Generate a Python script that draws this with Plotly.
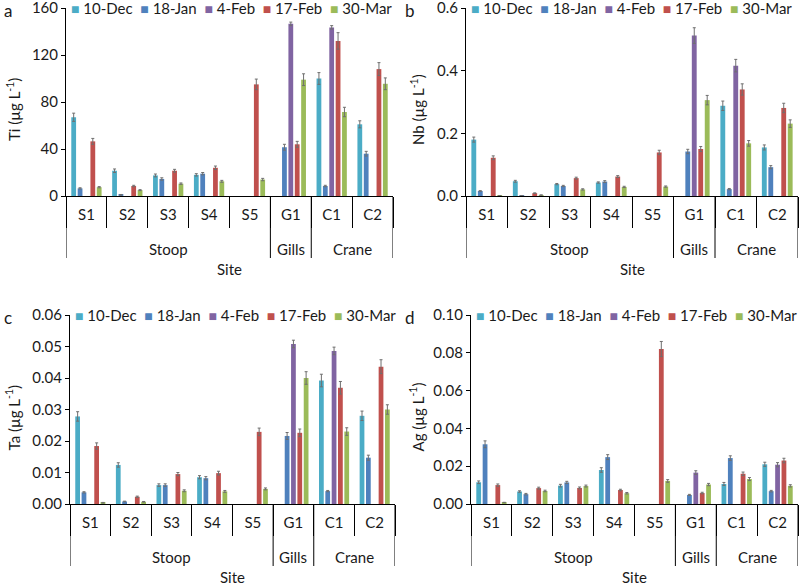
import plotly.graph_objects as go

W, H = 800, 585

sites = ["S1", "S2", "S3", "S4", "S5", "G1", "C1", "C2"]
group_names = ["Stoop", "Gills", "Crane"]
group_centers = [2, 5, 6.5]          # category index of each group's centre
group_bounds = [-0.5, 4.5, 5.5, 7.5]  # category boundaries between groups
dates = ["10-Dec", "18-Jan", "4-Feb", "17-Feb", "30-Mar"]
colors = ["#4BACC6", "#4F81BD", "#8064A2", "#C0504D", "#9BBB59"]

# ---- Ti (ug/L) rows = dates, cols = sites
ti_vals = [
    [67, 21.5, 17.5, 18, None, None, 100, 61],
    [6.5, 1, 14.5, 19, None, 41.5, 8.5, 36],
    [None, None, None, None, None, 146.5, 143.5, None],
    [46.5, 8.5, 21.5, 24, 95, 44, 132, 108],
    [7.5, 5, 10.5, 12.5, 14, 99, 71.5, 95.5],
]
ti_err = [
    [3.5, 1.5, 1.2, 1, None, None, 5, 3],
    [0.5, 0.3, 1, 1, None, 2.5, 0.6, 2],
    [None, None, None, None, None, 1.5, 1.5, None],
    [2.5, 0.6, 1.2, 1.5, 4.5, 2.5, 7, 5.5],
    [0.5, 0.4, 0.6, 0.8, 1, 5, 4, 5],
]

# ---- Nb
nb_vals = [
    [0.18, 0.047, 0.038, 0.043, None, None, 0.288, 0.155],
    [0.016, 0.001, 0.032, 0.046, None, 0.142, 0.022, 0.092],
    [None, None, None, None, None, 0.512, 0.416, None],
    [0.122, 0.009, 0.057, 0.062, 0.139, 0.15, 0.34, 0.281],
    [0.001, 0.003, 0.021, 0.029, 0.03, 0.306, 0.168, 0.231],
]
nb_err = [
    [0.008, 0.003, 0.002, 0.002, None, None, 0.015, 0.008],
    [0.001, 0.0005, 0.002, 0.003, None, 0.007, 0.002, 0.005],
    [None, None, None, None, None, 0.025, 0.02, None],
    [0.006, 0.001, 0.003, 0.003, 0.007, 0.008, 0.018, 0.015],
    [0.0005, 0.0005, 0.002, 0.002, 0.002, 0.015, 0.009, 0.012],
]

# ---- Ta
ta_vals = [
    [0.0278, 0.0124, 0.006, 0.0085, None, None, 0.0392, 0.028],
    [0.0037, 0.0008, 0.006, 0.0082, None, 0.0216, 0.0041, 0.0147],
    [None, None, None, None, None, 0.0508, 0.0486, None],
    [0.0184, 0.0023, 0.0095, 0.0098, 0.0229, 0.0226, 0.0369, 0.0436],
    [0.0004, 0.0007, 0.0042, 0.004, 0.0048, 0.040, 0.023, 0.030],
]
ta_err = [
    [0.0015, 0.0007, 0.0004, 0.0005, None, None, 0.002, 0.0015],
    [0.0002, 0.0001, 0.0004, 0.0005, None, 0.0011, 0.0002, 0.0008],
    [None, None, None, None, None, 0.0012, 0.0012, None],
    [0.001, 0.0002, 0.0005, 0.0006, 0.0012, 0.0012, 0.002, 0.0022],
    [0.0001, 0.0001, 0.0003, 0.0003, 0.0003, 0.002, 0.0012, 0.0015],
]

# ---- Ag
ag_vals = [
    [0.0115, 0.0066, 0.0097, 0.018, None, None, 0.0106, 0.021],
    [0.0316, 0.0052, 0.0114, 0.0248, None, 0.0048, 0.0243, 0.0068],
    [None, None, None, None, None, 0.0166, None, 0.0208],
    [0.010, 0.0084, 0.0085, 0.0074, 0.082, 0.0058, 0.016, 0.023],
    [0.0008, 0.0069, 0.0095, 0.0057, 0.0122, 0.0103, 0.0132, 0.0096],
]
ag_err = [
    [0.0007, 0.0004, 0.0007, 0.0012, None, None, 0.0008, 0.0011],
    [0.0018, 0.0004, 0.0006, 0.0013, None, 0.0003, 0.0012, 0.0004],
    [None, None, None, None, None, 0.001, None, 0.0011],
    [0.0006, 0.0005, 0.0005, 0.0004, 0.004, 0.0004, 0.0009, 0.0012],
    [0.0001, 0.0004, 0.0005, 0.0004, 0.0007, 0.0006, 0.0008, 0.0006],
]

panel_letters = ["a", "b", "c", "d"]
y_titles = ["Ti (µg L<sup>-1</sup>)", "Nb (µg L<sup>-1</sup>)",
            "Ta (µg L<sup>-1</sup>)", "Ag (µg L<sup>-1</sup>)"]
y_ticks = [[0, 40, 80, 120, 160], [0, 0.2, 0.4, 0.6],
           [0, 0.01, 0.02, 0.03, 0.04, 0.05, 0.06],
           [0, 0.02, 0.04, 0.06, 0.08, 0.10]]
y_formats = ["d", ".1f", ".2f", ".2f"]
all_vals = [ti_vals, nb_vals, ta_vals, ag_vals]
all_errs = [ti_err, nb_err, ta_err, ag_err]

# pixel boxes for each panel: (left, right, top, bottom)
boxes = [(66, 393, 8, 196), (466, 798, 8, 196), (70, 395, 315, 504), (471, 798, 315, 504)]

FONT = "Lato, Liberation Sans, sans-serif"
TXT = "#1a1a1a"


def px(x):
    return x / W


def py(y):
    return 1 - y / H


fig = go.Figure()
shapes = []
annotations = []
layout = {}

for i in range(4):
    sfx = "" if i == 0 else str(i + 1)
    xa, ya = "x" + sfx, "y" + sfx
    l, r, t, b = boxes[i]
    for d in range(5):
        fig.add_trace(go.Bar(
            x=sites, y=all_vals[i][d], name=dates[d],
            marker=dict(color=colors[d], line=dict(width=0)),
            error_y=dict(type="data", array=all_errs[i][d], color="#6f6f6f",
                         thickness=1, width=1.5),
            xaxis=xa, yaxis=ya, showlegend=False,
        ))
    layout["xaxis" + sfx] = dict(
        domain=[px(l), px(r)], anchor=ya, type="category", automargin=False,
        categoryorder="array", categoryarray=sites, range=[-0.5, 7.5],
        showline=True, linecolor="black", linewidth=1,
        ticks="outside", tickson="boundaries", ticklen=31, tickcolor="black",
        tickwidth=1, ticklabelstandoff=5,
        tickfont=dict(family=FONT, size=15, color=TXT), showgrid=False,
        fixedrange=True,
    )
    layout["yaxis" + sfx] = dict(
        domain=[py(b), py(t)], anchor=xa, range=[0, y_ticks[i][-1]],
        tickvals=y_ticks[i], tickformat=y_formats[i], automargin=False,
        ticklabeloverflow="allow",
        showline=True, linecolor="black", linewidth=1,
        ticks="outside", ticklen=4, tickcolor="black",
        tickfont=dict(family=FONT, size=15, color=TXT),
        showgrid=False, zeroline=False, fixedrange=True,
    )
    # group dividers
    div_bottom = b + 62
    for gb in group_bounds:
        shapes.append(dict(type="line", xref=xa, yref="paper", x0=gb, x1=gb,
                           y0=py(b), y1=py(div_bottom),
                           line=dict(color="black", width=1)))
    # group labels
    for gname, gc in zip(group_names, group_centers):
        annotations.append(dict(text=gname, xref=xa, yref="paper", x=gc, y=py(b + 53),
                                showarrow=False, xanchor="center", yanchor="middle",
                                font=dict(family=FONT, size=15, color=TXT)))
    # x title
    annotations.append(dict(text="Site", xref="paper", yref="paper",
                            x=px((l + r) / 2), y=py(b + 73), showarrow=False,
                            xanchor="center", yanchor="middle",
                            font=dict(family=FONT, size=15, color=TXT)))
    # y title
    ytx = 13 if i in (0, 2) else 417
    annotations.append(dict(text=y_titles[i], xref="paper", yref="paper",
                            x=px(ytx), y=py((t + b) / 2 + 8), textangle=-90,
                            showarrow=False, xanchor="center", yanchor="middle",
                            font=dict(family=FONT, size=15, color=TXT)))
    # panel letter
    annotations.append(dict(text=panel_letters[i], xref="paper", yref="paper",
                            x=px(2 if i in (0, 2) else 403), y=py(t + 2),
                            showarrow=False, xanchor="left", yanchor="middle",
                            font=dict(family=FONT, size=17, color=TXT)))
    # legend (text entries with coloured squares)
    parts = []
    for c, dname in zip(colors, dates):
        parts.append("<span style='color:%s;font-size:14px'>■</span> %s" % (c, dname))
    annotations.append(dict(text="  ".join(parts), xref="paper", yref="paper",
                            x=px(l + 3), y=py(t), showarrow=False,
                            xanchor="left", yanchor="middle",
                            font=dict(family=FONT, size=15, color=TXT)))

fig.update_layout(
    template="none",
    width=W, height=H, margin=dict(l=0, r=0, t=0, b=0, autoexpand=False),
    paper_bgcolor="white", plot_bgcolor="white",
    barmode="group", bargap=0.22, bargroupgap=0.25,
    shapes=shapes, annotations=annotations,
    font=dict(family=FONT, size=15, color=TXT),
    **layout,
)

fig.write_html("out.html", config={"displayModeBar": False},
               post_script="document.body.style.margin='0';")
